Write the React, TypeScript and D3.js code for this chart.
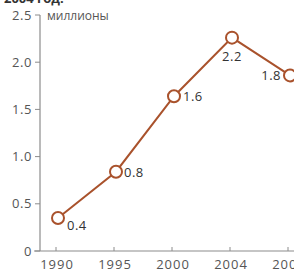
import React from "react";
import * as d3 from "d3";

// data
const years = ["1990", "1995", "2000", "2004", "2009"];
const values = [0.35, 0.84, 1.64, 2.26, 1.86];
const valueLabels = ["0.4", "0.8", "1.6", "2.2", "1.8"];
const yTicks = [0, 0.5, 1.0, 1.5, 2.0, 2.5];
const yTickLabels = ["0", "0.5", "1.0", "1.5", "2.0", "2.5"];

const W = 294;
const H = 273;
const lineColor = "#a9522c";
const axisColor = "#8c8c8c";
const textColor = "#555";
const font = "'Open Sans', 'DejaVu Sans', sans-serif";

export default function App() {
  const x = d3.scalePoint<string>().domain(years).range([58, 290]);
  const y = d3.scaleLinear().domain([0, 2.5]).range([251, 15]);

  const line = d3
    .line<number>()
    .x((d, i) => x(years[i]) as number)
    .y(d => y(d));

  // label offsets per point (dx, dy, anchor)
  const labelPos: [number, number, string][] = [
    [9, 12, "start"],
    [8, 5, "start"],
    [9, 5, "start"],
    [0, 23, "middle"],
    [-9, 5, "end"],
  ];

  return (
    <svg
      width={W}
      height={H}
      style={{ position: "absolute", left: 0, top: 0, background: "#fff" }}
      fontFamily={font}
    >
      <text x={4} y={3} fontSize={13} fontWeight="bold" fill="#333">
        2004 год.
      </text>

      {/* y axis */}
      <line x1={40} x2={40} y1={y(2.5)} y2={y(0)} stroke={axisColor} strokeWidth={1.2} />
      {yTicks.map((t, i) => (
        <g key={t}>
          <line x1={35} x2={40} y1={y(t)} y2={y(t)} stroke={axisColor} strokeWidth={1} />
          <text
            x={32}
            y={y(t)}
            dy="0.35em"
            textAnchor="end"
            fontSize={13}
            letterSpacing={0.6}
            fill={textColor}
          >
            {yTickLabels[i]}
          </text>
        </g>
      ))}
      <text x={47} y={20} fontSize={12} fill={textColor}>
        миллионы
      </text>

      {/* x axis */}
      <line x1={34} x2={W} y1={y(0)} y2={y(0)} stroke={axisColor} strokeWidth={1.2} />
      {years.map(yr => (
        <g key={yr}>
          <line
            x1={(x(yr) as number) - 2}
            x2={(x(yr) as number) - 2}
            y1={y(0) - 4}
            y2={y(0)}
            stroke={axisColor}
            strokeWidth={1}
          />
          <text
            x={(x(yr) as number) - 1}
            y={269}
            textAnchor="middle"
            fontSize={13}
            letterSpacing={1}
            fill={textColor}
          >
            {yr}
          </text>
        </g>
      ))}

      <path d={line(values) ?? ""} fill="none" stroke={lineColor} strokeWidth={2} />
      {values.map((v, i) => (
        <g key={years[i]}>
          <circle
            cx={x(years[i]) as number}
            cy={y(v)}
            r={6}
            fill="#fff"
            stroke={lineColor}
            strokeWidth={2}
          />
          <text
            x={(x(years[i]) as number) + labelPos[i][0]}
            y={y(v) + labelPos[i][1]}
            textAnchor={labelPos[i][2]}
            fontSize={13}
            letterSpacing={0.5}
            fill="#333"
          >
            {valueLabels[i]}
          </text>
        </g>
      ))}
    </svg>
  );
}
